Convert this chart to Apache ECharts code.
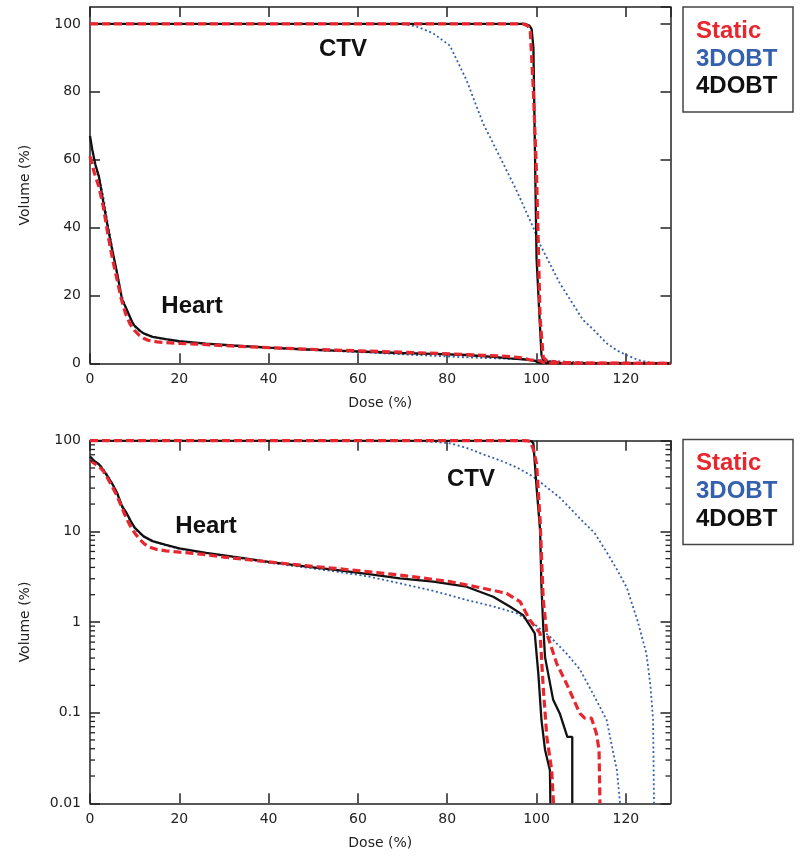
<!DOCTYPE html>
<html>
<head>
<meta charset="utf-8">
<title>DVH</title>
<script src="https://cdn.jsdelivr.net/npm/echarts@6/dist/echarts.min.js"></script>
<style>
  html, body { margin: 0; padding: 0; background: #fff; }
  #main { width: 800px; height: 858px; }
</style>
</head>
<body>
<div id="main"></div>
<script>
// dose (%) vs volume (%)
var ctvStatic = [[0,100],[97,100],[98,99.5],[98.6,98],[99.3,80],[100,56],[100.8,13.3],[101.5,1.75],[102.3,0.75],[104.5,0.35],[106.7,0.21],[109.7,0.098],[110.8,0.087],[112.3,0.087],[113.4,0.059],[114,0.039],[114.2,0.01],[130,0]];
var ctv3d = [[0,100],[70,100],[73,99.3],[76.8,97.3],[80.6,93.6],[84.3,83.5],[88,70.8],[91.8,60.8],[95.5,51],[99.2,40.2],[100.8,35],[105.2,23.6],[110.4,12.8],[113,9.6],[115.7,5.9],[118,3.8],[120.2,2.4],[122.7,1],[124.6,0.45],[125.5,0.2],[126.1,0.083],[126.3,0.01],[130,0]];
var ctv4d = [[0,100],[97.5,100],[98.4,99.5],[98.9,98.5],[99.3,93],[100,31],[100.8,10.3],[101.1,2.5],[101.5,0.9],[101.9,0.41],[103.7,0.14],[105.2,0.098],[106.9,0.054],[108,0.054],[108,0.01],[130,0]];

var heartStatic = [[0,61],[1,56],[2,52],[3,46],[4,38],[5,31],[6,25],[7,19],[8,14.5],[9,11.5],[10,9.6],[11,8.3],[12,7.4],[13,6.8],[15,6.3],[17,6.1],[20,5.9],[25,5.6],[30,5.2],[40,4.6],[50,4.1],[55,3.9],[62,3.6],[69.4,3.3],[80.6,2.79],[88,2.36],[93.3,2.07],[96.3,1.68],[98.5,1.05],[100.8,0.75],[101.5,0.19],[102.3,0.054],[103.4,0.023],[103.8,0.01],[130,0]];
var heart3d = [[0,66],[1,59],[2,55],[3,49],[4,41],[5,34],[6,27],[7,20.5],[8,16.5],[9,13],[10,10.8],[11,9.6],[12,8.8],[14,7.8],[17,7],[20,6.4],[26,5.7],[32,5.2],[40,4.5],[50,3.9],[55,3.6],[62,3.2],[69.4,2.67],[77,2.2],[84.3,1.75],[90,1.5],[95.5,1.25],[99.2,0.97],[103,0.69],[106.7,0.45],[109.7,0.3],[112.7,0.16],[115.7,0.083],[118,0.023],[118.7,0.01],[130,0]];
var heart4d = [[0,67],[0.5,63],[1.2,58.6],[2,55],[2.7,49.6],[4,40],[4.9,33.9],[6,27],[7.2,18.7],[8,16.5],[9.4,12.3],[10,11],[11.3,9.5],[12,8.8],[14,7.8],[17,7.1],[20,6.5],[26,5.8],[32,5.25],[40,4.6],[50,4],[55,3.75],[62,3.4],[69.4,3.03],[76.9,2.79],[84.3,2.45],[90.3,1.9],[94,1.48],[97,1.19],[98.9,0.85],[99.6,0.75],[100.4,0.27],[101.1,0.083],[101.9,0.039],[103,0.023],[103.1,0.01],[130,0]];

var doseRange = [0, 130];
var linVolRange = [0, 105];
var logVolRange = [0.01, 100];
var logMinorTicks = [0.02,0.03,0.04,0.05,0.06,0.07,0.08,0.09,0.2,0.3,0.4,0.5,0.6,0.7,0.8,0.9,2,3,4,5,6,7,8,9,20,30,40,50,60,70,80,90];
var groupNames = ['Static', '3DOBT', '4DOBT'];
var groupColors = ['#e8262d', '#3461ad', '#111111'];

var RED = groupColors[0], BLUE = groupColors[1], BLACK = groupColors[2];
var AXIS = '#222';
var labelFont = { fontFamily: 'DejaVu Sans', fontSize: 14, color: '#222' };

function positive(arr) {
  return arr.filter(function (p) { return p[1] > 0; });
}

function xAxes(gi) {
  return [{
    gridIndex: gi, type: 'value', min: doseRange[0], max: doseRange[1], interval: 20,
    name: 'Dose (%)', nameLocation: 'middle', nameGap: 33, nameTextStyle: labelFont,
    axisLine: { onZero: false, lineStyle: { color: AXIS, width: 1.5 } },
    axisTick: { inside: true, length: 10, lineStyle: { color: AXIS, width: 1.5 } },
    axisLabel: Object.assign({ margin: 9, showMaxLabel: false }, labelFont),
    splitLine: { show: false }
  }, {
    gridIndex: gi, type: 'value', position: 'top', min: doseRange[0], max: doseRange[1], interval: 20,
    axisLine: { onZero: false, lineStyle: { color: AXIS, width: 1.5 } },
    axisTick: { inside: true, length: 10, lineStyle: { color: AXIS, width: 1.5 } },
    axisLabel: { show: false }, splitLine: { show: false }
  }];
}

function yAxes(gi, log) {
  var base = log
    ? { type: 'log', logBase: 10, min: logVolRange[0], max: logVolRange[1] }
    : { type: 'value', min: linVolRange[0], max: linVolRange[1], interval: 20 };
  var left = Object.assign({
    gridIndex: gi, position: 'left',
    name: 'Volume (%)', nameLocation: 'middle', nameGap: 58, nameTextStyle: labelFont,
    axisLine: { onZero: false, lineStyle: { color: AXIS, width: 1.5 } },
    axisTick: { inside: true, length: 10, lineStyle: { color: AXIS, width: 1.5 } },
    axisLabel: Object.assign({
      margin: 9, showMaxLabel: log ? true : false,
      formatter: function (v) { return String(+Number(v).toPrecision(3)); }
    }, labelFont),
    splitLine: { show: false }
  }, base);
  var right = Object.assign({
    gridIndex: gi, position: 'right',
    axisLine: { onZero: false, lineStyle: { color: AXIS, width: 1.5 } },
    axisTick: { inside: true, length: 10, lineStyle: { color: AXIS, width: 1.5 } },
    axisLabel: { show: false }, splitLine: { show: false }
  }, base);
  return [left, right];
}

function lineSeries(name, data, gi, style, z) {
  return {
    name: name, type: 'line', xAxisIndex: gi * 2, yAxisIndex: gi * 2,
    data: data, showSymbol: false, symbol: 'none', smooth: false, z: z,
    lineStyle: style, animation: false, clip: true
  };
}

var sRed = { color: RED, width: 3.2, type: [8, 4] };
var sBlue = { color: BLUE, width: 1.8, type: [2, 2.6] };
var sBlack = { color: BLACK, width: 2.3, type: 'solid' };

var series = [];
// top panel, linear
series.push(lineSeries(groupNames[1], ctv3d, 0, sBlue, 2));
series.push(lineSeries(groupNames[1], heart3d, 0, sBlue, 2));
series.push(lineSeries(groupNames[2], ctv4d, 0, sBlack, 3));
series.push(lineSeries(groupNames[2], heart4d, 0, sBlack, 3));
series.push(lineSeries(groupNames[0], ctvStatic, 0, sRed, 4));
series.push(lineSeries(groupNames[0], heartStatic, 0, sRed, 4));
// bottom panel, log
series.push(lineSeries(groupNames[1], positive(ctv3d), 1, sBlue, 2));
series.push(lineSeries(groupNames[1], positive(heart3d), 1, sBlue, 2));
series.push(lineSeries(groupNames[2], positive(ctv4d), 1, sBlack, 3));
series.push(lineSeries(groupNames[2], positive(heart4d), 1, sBlack, 3));
series.push(lineSeries(groupNames[0], positive(ctvStatic), 1, sRed, 4));
series.push(lineSeries(groupNames[0], positive(heartStatic), 1, sRed, 4));

// minor ticks of the log axis (left and right side)
series.push({
  type: 'custom', xAxisIndex: 2, yAxisIndex: 2, silent: true, animation: false, z: 5,
  data: logMinorTicks.map(function (v) { return [doseRange[0], v]; }),
  renderItem: function (params, api) {
    var p = api.coord([doseRange[0], api.value(1)]);
    var cs = params.coordSys;
    var xl = cs.x, xr = cs.x + cs.width;
    return {
      type: 'group',
      children: [
        { type: 'line', shape: { x1: xl, y1: p[1], x2: xl + 5, y2: p[1] }, style: { stroke: AXIS, lineWidth: 1.3 } },
        { type: 'line', shape: { x1: xr - 5, y1: p[1], x2: xr, y2: p[1] }, style: { stroke: AXIS, lineWidth: 1.3 } }
      ]
    };
  }
});

function legendBox(top) {
  var txt = function (i, dy) {
    return {
      type: 'text', left: 696, top: top + dy,
      style: { text: groupNames[i], fill: groupColors[i], font: 'bold 24px "Liberation Sans", Arial, sans-serif' }
    };
  };
  return [
    { type: 'rect', shape: { x: 683, y: top, width: 110, height: 105 }, style: { fill: '#fff', stroke: '#444', lineWidth: 1.5 } },
    txt(0, 12), txt(1, 40), txt(2, 67.5)
  ];
}

function note(text, cx, cy) {
  return {
    type: 'text', x: cx, y: cy, z: 10,
    style: { text: text, fill: '#111', font: 'bold 24px "Liberation Sans", Arial, sans-serif', textAlign: 'center', textVerticalAlign: 'middle' }
  };
}

var chart = echarts.init(document.getElementById('main'), null, { renderer: 'canvas' });
chart.setOption({
  backgroundColor: '#fff',
  animation: false,
  grid: [
    { left: 90, top: 7, width: 580.5, height: 356.3, outerBoundsMode: 'none', containLabel: false },
    { left: 90, top: 440.7, width: 580.5, height: 362.6, outerBoundsMode: 'none', containLabel: false }
  ],
  xAxis: xAxes(0).concat(xAxes(1)),
  yAxis: yAxes(0, false).concat(yAxes(1, true)),
  series: series,
  graphic: legendBox(7).concat(legendBox(439.5)).concat([
    note('CTV', 343, 49),
    note('Heart', 192, 306),
    note('Heart', 206, 526),
    note('CTV', 471, 479)
  ])
});
</script>
</body>
</html>
